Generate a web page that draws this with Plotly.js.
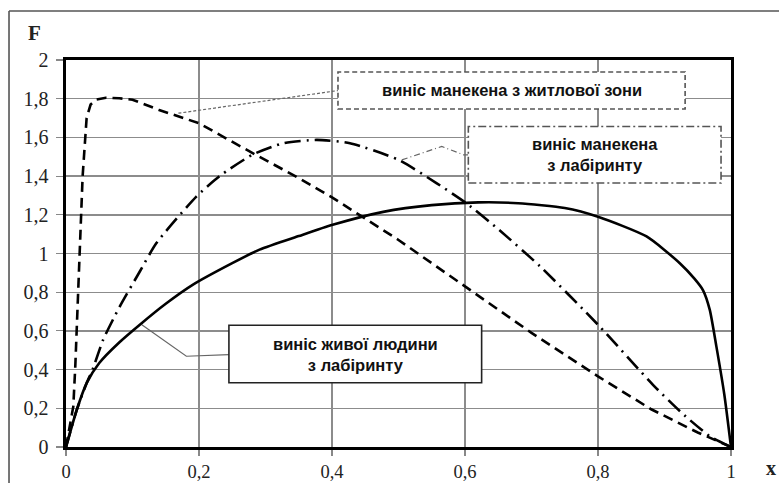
<!DOCTYPE html>
<html>
<head>
<meta charset="utf-8">
<script src="https://cdn.plot.ly/plotly-3.0.1.min.js"></script>
<style>html,body{margin:0;padding:0;background:#fff;}#chart{width:779px;height:483px;}</style>
</head>
<body>
<div id="chart"></div>
<script>
// Series 1: виніс манекена з житлової зони (dashed)
const xDummyHome = [0, 0.005, 0.011, 0.014, 0.017, 0.02, 0.025, 0.031, 0.037, 0.045, 0.06, 0.08, 0.1, 0.14, 0.2, 0.28, 0.35, 0.4, 0.45, 0.5, 0.6, 0.7, 0.8, 0.88, 0.95, 1];
const yDummyHome = [0, 0.1, 0.21, 0.42, 0.7, 1.0, 1.4, 1.7, 1.77, 1.795, 1.805, 1.802, 1.795, 1.742, 1.673, 1.52, 1.39, 1.29, 1.18, 1.07, 0.83, 0.59, 0.365, 0.195, 0.075, 0];
// Series 2: виніс манекена з лабіринту (dash-dot)
const xDummyMaze = [0, 0.016, 0.031, 0.04, 0.056, 0.081, 0.111, 0.136, 0.196, 0.231, 0.28, 0.327, 0.377, 0.427, 0.5, 0.557, 0.602, 0.652, 0.713, 0.8, 0.883, 0.926, 0.968, 1];
const yDummyMaze = [0, 0.19, 0.33, 0.40, 0.555, 0.727, 0.907, 1.054, 1.294, 1.40, 1.51, 1.57, 1.587, 1.57, 1.484, 1.364, 1.26, 1.12, 0.933, 0.632, 0.32, 0.176, 0.056, 0];
// Series 3: виніс живої людини з лабіринту (solid)
const xHumanMaze = [0, 0.016, 0.031, 0.05, 0.08, 0.111, 0.15, 0.191, 0.25, 0.291, 0.35, 0.401, 0.477, 0.55, 0.62, 0.68, 0.75, 0.8, 0.873, 0.923, 0.945, 0.958, 0.968, 0.978, 0.99, 1];
const yHumanMaze = [0, 0.19, 0.33, 0.434, 0.54, 0.632, 0.74, 0.839, 0.95, 1.02, 1.09, 1.148, 1.215, 1.25, 1.264, 1.26, 1.235, 1.19, 1.088, 0.95, 0.87, 0.81, 0.71, 0.52, 0.27, 0];

// Label texts
const labelHome = 'виніс манекена з житлової зони';
const labelDummyMaze = 'виніс манекена<br>з лабіринту';
const labelHumanMaze = 'виніс живої людини<br>з лабіринту';
const xTickVals = [0, 0.2, 0.4, 0.6, 0.8, 1];
const yTickVals = [0, 0.2, 0.4, 0.6, 0.8, 1, 1.2, 1.4, 1.6, 1.8, 2];

// Callout boxes and leader lines (data coords)
const boxHome = {x0: 0.409, x1: 0.931, y0: 1.747, y1: 1.938};
const boxDummyMaze = {x0: 0.605, x1: 0.985, y0: 1.364, y1: 1.656};
const boxHumanMaze = {x0: 0.245, x1: 0.625, y0: 0.332, y1: 0.629};
const leadHomeX = [0.169, 0.4015, 0.409], leadHomeY = [1.725, 1.842, 1.842];
const leadDMX = [0.505, 0.565, 0.598, 0.605], leadDMY = [1.484, 1.553, 1.51, 1.51];
const leadHMX = [0.114, 0.181, 0.245], leadHMY = [0.632, 0.469, 0.477];

const traces = [
  {x: leadHomeX, y: leadHomeY, mode: 'lines', line: {color: '#666', width: 1.2, dash: '3px,2px'}, hoverinfo: 'skip'},
  {x: leadDMX, y: leadDMY, mode: 'lines', line: {color: '#666', width: 1.2, dash: '6px,3px,1px,3px'}, hoverinfo: 'skip'},
  {x: leadHMX, y: leadHMY, mode: 'lines', line: {color: '#666', width: 1.2}, hoverinfo: 'skip'},
  {x: xDummyHome, y: yDummyHome, mode: 'lines', line: {color: '#000', width: 2.6, dash: '10px,6px'}},
  {x: xDummyMaze, y: yDummyMaze, mode: 'lines', line: {color: '#000', width: 2.6, dash: '16px,6px,2px,6px', shape: 'spline', smoothing: 0.6}},
  {x: xHumanMaze, y: yHumanMaze, mode: 'lines', line: {color: '#000', width: 2.6, shape: 'spline', smoothing: 0.6}}
];

function box(b, dash, color) {
  return {type: 'rect', xref: 'x', yref: 'y', x0: b.x0, x1: b.x1, y0: b.y0, y1: b.y1,
    fillcolor: '#fff', line: {color: color, width: 1.6, dash: dash}, layer: 'above'};
}
function boxLabel(b, text) {
  return {xref: 'x', yref: 'y', x: (b.x0 + b.x1) / 2, y: (b.y0 + b.y1) / 2, text: text,
    showarrow: false, xanchor: 'center', yanchor: 'middle',
    font: {family: 'Liberation Sans, Arial, sans-serif', size: 16.5, color: '#111', weight: 'bold'}};
}

const layout = {
  width: 779, height: 483,
  margin: {l: 66, r: 48, t: 60, b: 36, pad: 0},
  paper_bgcolor: '#fff', plot_bgcolor: '#fff',
  showlegend: false,
  separators: ', ',
  font: {family: 'Liberation Serif, Times New Roman, serif', size: 20, color: '#222'},
  xaxis: {range: [0, 1], tickvals: xTickVals, showgrid: true, gridcolor: '#8c8c8c', gridwidth: 1.4,
    zeroline: false, showline: true, linecolor: '#000', linewidth: 2.6, mirror: true,
    ticks: 'outside', ticklen: 6, tickcolor: '#888', tickwidth: 1.2, ticklabelstandoff: 0,
    tickfont: {size: 18.5}, fixedrange: true},
  yaxis: {range: [0, 2], tickvals: yTickVals, showgrid: true, gridcolor: '#8c8c8c', gridwidth: 1.4,
    zeroline: false, showline: true, linecolor: '#000', linewidth: 2.6, mirror: true,
    ticks: 'outside', ticklen: 7, tickcolor: '#888', tickwidth: 1.2, ticklabelstandoff: 4, fixedrange: true},
  shapes: [
    box(boxHome, '5px,3px', '#555'),
    box(boxDummyMaze, '8px,3px,2px,3px', '#555'),
    box(boxHumanMaze, 'solid', '#222'),
    {type: 'line', xref: 'paper', yref: 'paper', x0: -0.0857, x1: -0.0857, y0: -0.2, y1: 1.1265, line: {color: '#555', width: 1.6}},
    {type: 'line', xref: 'paper', yref: 'paper', x0: -0.0857, x1: 1.1, y0: 1.1265, y1: 1.1265, line: {color: '#555', width: 1.6}}
  ],
  annotations: [
    boxLabel(boxHome, labelHome),
    boxLabel(boxDummyMaze, labelDummyMaze),
    boxLabel(boxHumanMaze, labelHumanMaze),
    {xref: 'paper', yref: 'paper', x: (34 - 66) / 665, y: (447.5 - 33) / 387.5, text: '<b>F</b>', showarrow: false,
      xanchor: 'center', yanchor: 'middle', font: {family: 'Liberation Serif, serif', size: 21, color: '#222'}},
    {xref: 'paper', yref: 'paper', x: (771 - 66) / 665, y: (447.5 - 469) / 387.5, text: '<b>x</b>', showarrow: false,
      xanchor: 'center', yanchor: 'middle', font: {family: 'Liberation Serif, serif', size: 20, color: '#222'}}
  ]
};

Plotly.newPlot('chart', traces, layout, {staticPlot: true, displayModeBar: false});
</script>
</body>
</html>
